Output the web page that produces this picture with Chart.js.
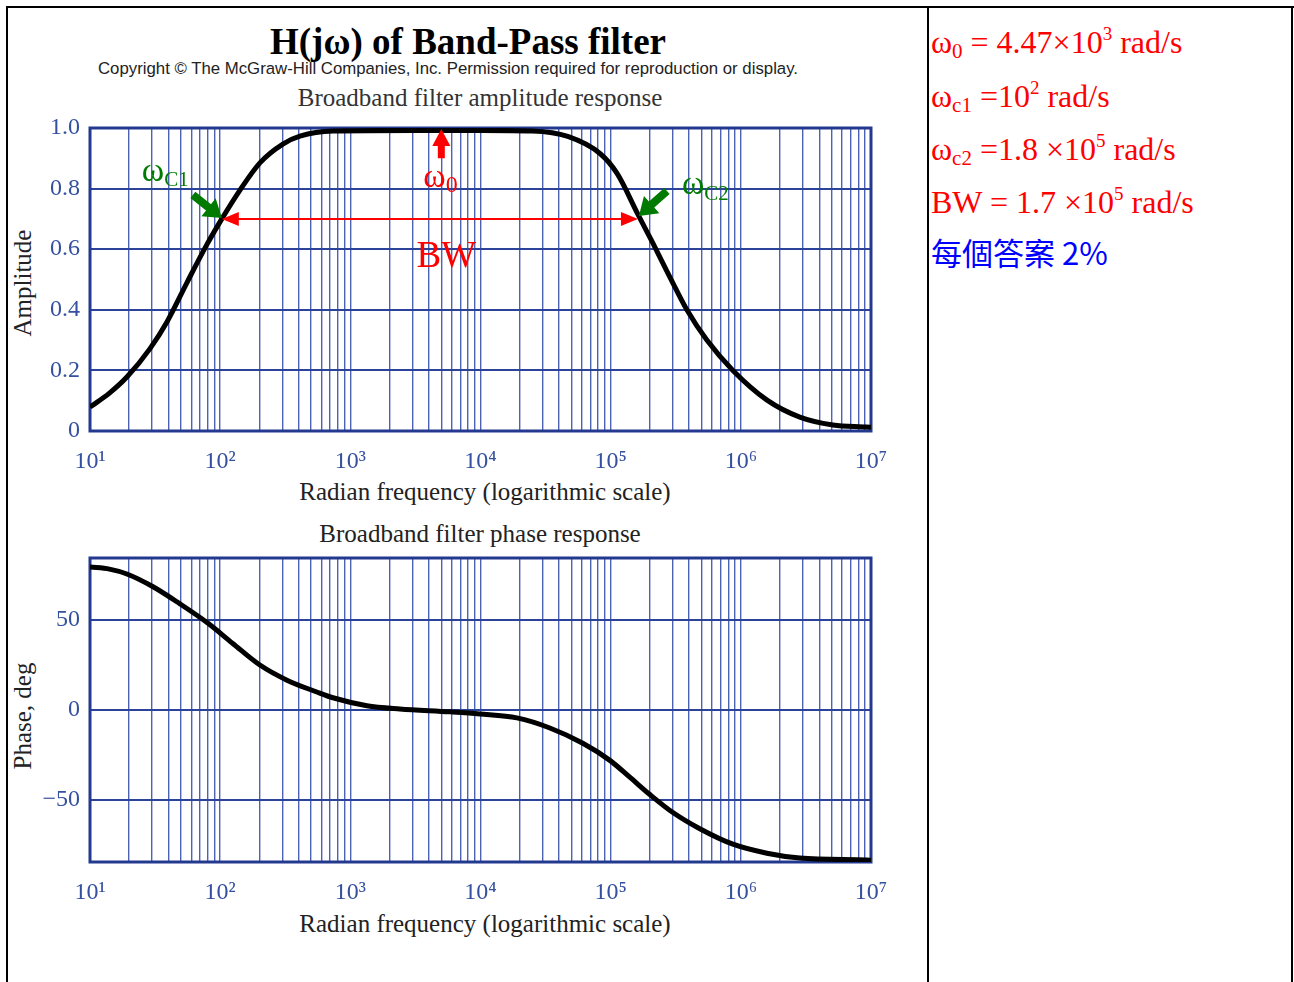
<!DOCTYPE html>
<html>
<head>
<meta charset="utf-8">
<script src="https://cdn.jsdelivr.net/npm/chart.js@4.4.1/dist/chart.umd.min.js"></script>
<style>
  body { margin: 0; background: #fff; width: 1294px; height: 982px; overflow: hidden; position: relative; }
  .ln { position: absolute; background: #000; }
  .txt { position: absolute; white-space: nowrap; line-height: 1; font-family: "Liberation Serif", serif; }
  .ans { position: absolute; left: 931px; white-space: nowrap; line-height: 1; font-family: "Liberation Serif", serif; font-size: 32px; color: #f00; }
  .ans sub { font-size: 21px; vertical-align: -5px; line-height: 0; }
  .ans sup { font-size: 19px; vertical-align: 13px; line-height: 0; }
  canvas { position: absolute; left: 0; }
</style>
</head>
<body>
<!-- table lines -->
<div class="ln" style="left:6px;top:6px;width:1288px;height:2px"></div>
<div class="ln" style="left:6px;top:6px;width:2px;height:976px"></div>
<div class="ln" style="left:927px;top:6px;width:2px;height:976px"></div>
<div class="ln" style="left:1291px;top:6px;width:2px;height:976px"></div>

<!-- titles -->
<div class="txt" style="left:0;width:936px;text-align:center;top:23px;font-size:37px;font-weight:bold;color:#000">H(jω) of Band-Pass filter</div>
<div class="txt" style="left:0;width:896px;text-align:center;top:61px;font-size:16.8px;font-family:'Liberation Sans',sans-serif;color:#222">Copyright © The McGraw-Hill Companies, Inc. Permission required for reproduction or display.</div>
<div class="txt" style="left:0;width:960px;text-align:center;top:85px;font-size:25px;color:#333">Broadband filter amplitude response</div>
<div class="txt" style="left:0;width:970px;text-align:center;top:479px;font-size:25px;color:#222">Radian frequency (logarithmic scale)</div>
<div class="txt" style="left:0;width:960px;text-align:center;top:521px;font-size:25px;color:#222">Broadband filter phase response</div>
<div class="txt" style="left:0;width:970px;text-align:center;top:911px;font-size:25px;color:#222">Radian frequency (logarithmic scale)</div>
<div class="txt" style="left:22px;top:283px;font-size:25px;color:#222;transform:translate(-50%,-50%) rotate(-90deg)">Amplitude</div>
<div class="txt" style="left:22px;top:716px;font-size:25px;color:#222;transform:translate(-50%,-50%) rotate(-90deg)">Phase, deg</div>

<canvas id="grafic1" width="930" height="410" style="top:110px"></canvas>
<canvas id="grafic2" width="930" height="410" style="top:540px"></canvas>

<!-- answers -->
<div class="ans" style="top:26px">ω<sub>0</sub> = 4.47×10<sup>3</sup> rad/s</div>
<div class="ans" style="top:80px">ω<sub>c1</sub> =10<sup>2</sup> rad/s</div>
<div class="ans" style="top:133px">ω<sub>c2</sub> =1.8 ×10<sup>5</sup> rad/s</div>
<div class="ans" style="top:186px">BW = 1.7 ×10<sup>5</sup> rad/s</div>
<div class="ans" style="top:236px;color:#00f;font-family:'Noto Sans CJK TC',sans-serif;font-size:31px">每個答案 2%</div>

<script>
// Dades llegides del grafic
const decades = [1e1, 1e2, 1e3, 1e4, 1e5, 1e6, 1e7];
const decadeLabels = ['10¹', '10²', '10³', '10⁴', '10⁵', '10⁶', '10⁷'];
const minorSteps = [2, 3, 4, 5, 6, 7, 8, 9];

const ampFreq = [10, 14.1, 19.2, 28.9, 39, 55.6, 79, 103, 142, 202, 303, 410, 735, 3160, 10000, 25100, 46800, 83200, 112000, 162000, 211000, 285000, 385000, 548000, 869000, 1590000, 2840000, 5090000, 9290000, 10000000];
const ampValues = [0.079, 0.125, 0.178, 0.272, 0.36, 0.49, 0.615, 0.70, 0.795, 0.885, 0.947, 0.973, 0.99, 0.992, 0.992, 0.99, 0.972, 0.915, 0.85, 0.715, 0.62, 0.508, 0.40, 0.30, 0.20, 0.102, 0.046, 0.02, 0.013, 0.012];
const ampTicks = [0, 0.2, 0.4, 0.6, 0.8, 1.0];
const ampTickLabels = ['0', '0.2', '0.4', '0.6', '0.8', '1.0'];

const phaseFreq = [10, 14.1, 19.2, 30.5, 49.1, 79.3, 125, 202, 326, 553, 735, 1340, 2400, 5820, 9890, 19050, 34100, 61100, 98600, 141000, 200000, 300600, 484000, 869000, 1585000, 2840000, 9290000, 10000000];
const phaseValues = [79.5, 78.3, 75.6, 68.5, 59, 48.6, 37, 25, 16.6, 10, 6.8, 2.4, 0.6, -1, -2.2, -4.4, -10, -18.5, -28, -37.5, -47, -57, -66, -74.6, -79.6, -82.3, -83.4, -83.5];
const phaseTicks = [-50, 0, 50];
const phaseTickLabels = ['−50', '0', '50'];

// Anotacions
const w0Mark = 5000;
const wc1Mark = 103;
const wc2Mark = 162000;
const halfPower = 0.70;

const gridBlue = 'rgba(45,70,165,0.85)';
const frameBlue = '#22398f';
const tickBlue = '#34509e';
const red = '#ff0000';
const green = '#007a00';

// marc del grafic
const frame = {
  id: 'frame',
  beforeDatasetsDraw(chart) {
    const { ctx, chartArea: a } = chart;
    ctx.save();
    ctx.strokeStyle = frameBlue;
    ctx.lineWidth = 3;
    ctx.strokeRect(a.left, a.top, a.right - a.left, a.bottom - a.top);
    ctx.restore();
  }
};

function blockArrow(ctx, x0, y0, x1, y1, shaft, headLen, headW, color) {
  const dx = x1 - x0, dy = y1 - y0, len = Math.hypot(dx, dy);
  const ux = dx / len, uy = dy / len, nx = -uy, ny = ux;
  const bx = x1 - ux * headLen, by = y1 - uy * headLen;
  ctx.beginPath();
  ctx.moveTo(x0 + nx * shaft / 2, y0 + ny * shaft / 2);
  ctx.lineTo(bx + nx * shaft / 2, by + ny * shaft / 2);
  ctx.lineTo(bx + nx * headW / 2, by + ny * headW / 2);
  ctx.lineTo(x1, y1);
  ctx.lineTo(bx - nx * headW / 2, by - ny * headW / 2);
  ctx.lineTo(bx - nx * shaft / 2, by - ny * shaft / 2);
  ctx.lineTo(x0 - nx * shaft / 2, y0 - ny * shaft / 2);
  ctx.closePath();
  ctx.fillStyle = color;
  ctx.fill();
}

function omegaLabel(ctx, x, y, sub, color, big, small, drop) {
  ctx.fillStyle = color;
  ctx.textAlign = 'left';
  ctx.textBaseline = 'alphabetic';
  ctx.font = big + 'px "Liberation Serif"';
  ctx.fillText('ω', x, y);
  const w = ctx.measureText('ω').width;
  ctx.font = small + 'px "Liberation Serif"';
  ctx.fillText(sub, x + w, y + drop);
}

const annotate = {
  id: 'annotate',
  afterDatasetsDraw(chart) {
    const { ctx, scales: { x, y } } = chart;
    const px = v => x.getPixelForValue(v);
    const py = v => y.getPixelForValue(v);
    ctx.save();

    // BW
    const xl = px(wc1Mark), xr = px(wc2Mark), yb = py(halfPower);
    ctx.strokeStyle = red;
    ctx.lineWidth = 2;
    ctx.beginPath();
    ctx.moveTo(xl + 10, yb);
    ctx.lineTo(xr - 10, yb);
    ctx.stroke();
    ctx.fillStyle = red;
    ctx.beginPath();
    ctx.moveTo(xl, yb); ctx.lineTo(xl + 17, yb - 7); ctx.lineTo(xl + 17, yb + 7); ctx.closePath(); ctx.fill();
    ctx.beginPath();
    ctx.moveTo(xr, yb); ctx.lineTo(xr - 17, yb - 7); ctx.lineTo(xr - 17, yb + 7); ctx.closePath(); ctx.fill();

    ctx.font = '37px "Liberation Serif"';
    ctx.textAlign = 'center';
    ctx.textBaseline = 'alphabetic';
    ctx.fillText('BW', px(w0Mark) + 5, py(0.54));

    // w0
    blockArrow(ctx, px(w0Mark), py(0.90), px(w0Mark), py(1.0) + 1, 7, 17, 18, red);
    omegaLabel(ctx, px(w0Mark) - 18, py(0.805), '0', red, 34, 24, 5);

    // wc1, wc2
    blockArrow(ctx, xl - 29, yb - 24, xl, yb - 1, 8, 17, 23, green);
    blockArrow(ctx, xr + 29, yb - 28, xr + 1, yb - 3, 8, 17, 23, green);
    omegaLabel(ctx, xl - 80, yb - 38, 'C1', green, 34, 21, 5);
    omegaLabel(ctx, xr + 44, yb - 25, 'C2', green, 34, 21, 6);

    ctx.restore();
  }
};

function logTicks(scale) {
  const t = [];
  decades.forEach((d, i) => {
    t.push({ value: d });
    if (i < decades.length - 1) minorSteps.forEach(m => t.push({ value: d * m }));
  });
  scale.ticks = t;
}

function xScale(h) {
  return {
    type: 'logarithmic',
    min: 10,
    max: 1e7,
    afterBuildTicks: logTicks,
    afterFit: s => { s.height = h; },
    border: { display: false },
    grid: { color: gridBlue, lineWidth: 1.4, drawTicks: false },
    ticks: {
      autoSkip: false,
      maxRotation: 0,
      minRotation: 0,
      padding: 16,
      color: tickBlue,
      font: { family: 'Liberation Serif', size: 24 },
      callback: v => {
        const i = decades.indexOf(v);
        return i >= 0 ? decadeLabels[i] : '';
      }
    }
  };
}

function yScale(min, max, ticks, labels) {
  return {
    min: min,
    max: max,
    afterBuildTicks: s => { s.ticks = ticks.map(v => ({ value: v })); },
    // amplada fixa i sense marge extra dalt/baix
    afterFit: s => { s.width = 90; s.paddingTop = 0; s.paddingBottom = 0; },
    border: { display: false },
    grid: { color: '#2b4399', lineWidth: 2, drawTicks: false },
    ticks: {
      padding: 10,
      color: tickBlue,
      font: { family: 'Liberation Serif', size: 24 },
      callback: v => labels[ticks.indexOf(v)]
    }
  };
}

function curve(freq, values) {
  return {
    data: freq.map((f, i) => ({ x: f, y: values[i] })),
    borderColor: '#000',
    borderWidth: 5,
    pointRadius: 0,
    cubicInterpolationMode: 'monotone',
    fill: false
  };
}

const common = {
  responsive: false,
  animation: false,
  layout: { padding: { top: 18, right: 59, left: 0, bottom: 0 } },
  plugins: { legend: { display: false }, tooltip: { enabled: false } }
};

new Chart(document.getElementById('grafic1'), {
  type: 'line',
  data: { datasets: [curve(ampFreq, ampValues)] },
  options: Object.assign({}, common, {
    scales: { x: xScale(89), y: yScale(0, 1, ampTicks, ampTickLabels) }
  }),
  plugins: [frame, annotate]
});

new Chart(document.getElementById('grafic2'), {
  type: 'line',
  data: { datasets: [curve(phaseFreq, phaseValues)] },
  options: Object.assign({}, common, {
    scales: { x: xScale(88), y: yScale(-84.5, 84.5, phaseTicks, phaseTickLabels) }
  }),
  plugins: [frame]
});
</script>
</body>
</html>
